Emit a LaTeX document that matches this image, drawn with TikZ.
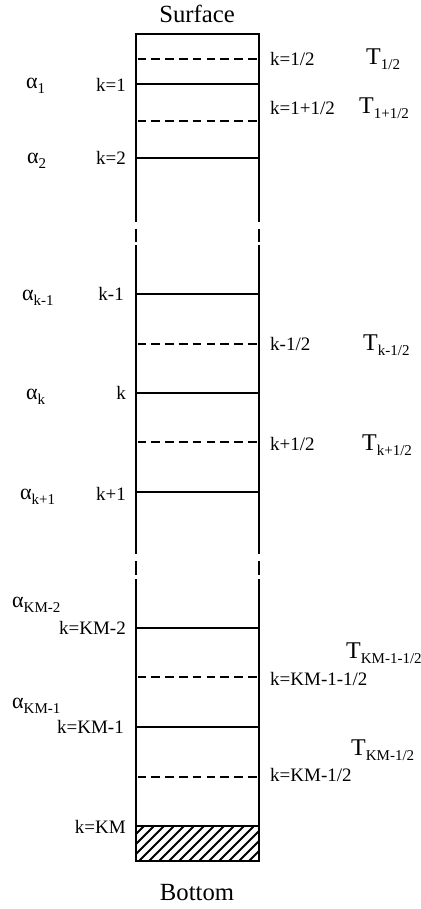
\documentclass[tikz,border=0pt]{standalone}
\usepackage{fontspec}
\setmainfont{Liberation Serif}
\newcommand{\Tlab}[1]{{\fontsize{24}{24}\selectfont T}\raisebox{-5pt}{\fontsize{15}{15}\selectfont #1}}
\newcommand{\alab}[1]{{\fontsize{22}{22}\selectfont α}\raisebox{-5pt}{\fontsize{15}{15}\selectfont #1}}
\begin{document}
\begin{tikzpicture}[x=1pt,y=-1pt,
  wall/.style={line width=2.8pt, line join=miter, line cap=butt},
  level/.style={line width=2.7pt},
  half/.style={line width=2.7pt, dash pattern=on 8.7pt off 5.1pt},
  hatchline/.style={line width=1.8pt},
  lab/.style={inner sep=0pt, font=\fontsize{19}{19}\selectfont},
  head/.style={inner sep=0pt, font=\fontsize{24.7}{25}\selectfont}]
\useasboundingbox (0,0) rectangle (420,909);
% column outline
\coordinate (tl) at (136,34);
\coordinate (tr) at (259,34);
\coordinate (bl) at (136,861);
\coordinate (br) at (259,861);
\draw[wall] (136,222) -- (tl) -- (tr) -- (259,222);
\draw[wall] (136,229) -- (136,242) (259,229) -- (259,242);
\draw[wall] (136,245) -- (136,554) (259,245) -- (259,554);
\draw[wall] (136,561) -- (136,575) (259,561) -- (259,575);
\draw[wall] (136,579) -- (bl) -- (br) -- (259,579);
% full levels
\foreach \y in {84,158,294,393,492,628,727,826}
  \draw[level] (136,\y) -- (259,\y);
% half levels
\foreach \y in {59,121,344,442,677,777}
  \draw[half] (137.5,\y) -- (258,\y);
% hatched bottom
\begin{scope}
  \clip (136,826) rectangle (259,861);
  \foreach \i in {-4,...,13}
    \draw[hatchline] ({138+\i*10},862) -- ({138+\i*10+36},826);
\end{scope}
% titles
\node[head, anchor=base] (surf) at (197,23) {Surface};
\node[head, anchor=base] (bot) at (197,900) {Bottom};
% left k labels
\node[lab, anchor=base east] (k1) at (126,92) {k=1};
\node[lab, anchor=base east] (k2) at (126,165) {k=2};
\node[lab, anchor=base east] (km1) at (124,300) {k-1};
\node[lab, anchor=base east] (kk) at (126,399) {k};
\node[lab, anchor=base east] (kp1) at (126,500) {k+1};
\node[lab, anchor=base east] (kKM2) at (126,634) {k=KM-2};
\node[lab, anchor=base east] (kKM1) at (124,733) {k=KM-1};
\node[lab, anchor=base east] (kKM) at (126,833) {k=KM};
% alpha labels
\node[inner sep=0pt, anchor=base west] (a1) at (26,89) {\alab{1}};
\node[inner sep=0pt, anchor=base west] (a2) at (27,164) {\alab{2}};
\node[inner sep=0pt, anchor=base west] (akm1) at (22,300) {\alab{k-1}};
\node[inner sep=0pt, anchor=base west] (ak) at (26,399) {\alab{k}};
\node[inner sep=0pt, anchor=base west] (akp1) at (20,499) {\alab{k+1}};
\node[inner sep=0pt, anchor=base west] (aKM2) at (12,607) {\alab{KM-2}};
\node[inner sep=0pt, anchor=base west] (aKM1) at (12,708) {\alab{KM-1}};
% right k labels
\node[lab, anchor=base west] (h1) at (270,66) {k=1/2};
\node[lab, anchor=base west] (h2) at (270,115) {k=1+1/2};
\node[lab, anchor=base west] (hkm) at (270,350) {k-1/2};
\node[lab, anchor=base west] (hkp) at (270,450) {k+1/2};
\node[lab, anchor=base west] (hKM2) at (270,685) {k=KM-1-1/2};
\node[lab, anchor=base west] (hKM1) at (270,781) {k=KM-1/2};
% temperature labels
\node[inner sep=0pt, anchor=base west] (T1) at (366,65) {\Tlab{1/2}};
\node[inner sep=0pt, anchor=base west] (T2) at (359,114) {\Tlab{1+1/2}};
\node[inner sep=0pt, anchor=base west] (Tkm) at (363,350) {\Tlab{k-1/2}};
\node[inner sep=0pt, anchor=base west] (Tkp) at (362,450) {\Tlab{k+1/2}};
\node[inner sep=0pt, anchor=base west] (TKM2) at (346,658) {\Tlab{KM-1-1/2}};
\node[inner sep=0pt, anchor=base west] (TKM1) at (351,755) {\Tlab{KM-1/2}};
\end{tikzpicture}
\end{document}
